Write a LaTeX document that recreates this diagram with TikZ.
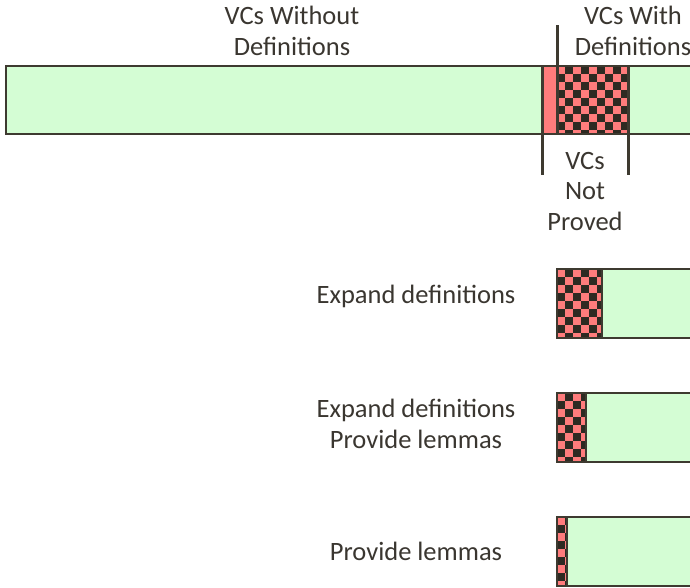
\documentclass[tikz,border=0pt]{standalone}
\usepackage{fontspec}
\setmainfont{Carlito}
\definecolor{barfill}{HTML}{D4FDD4}
\definecolor{redfill}{HTML}{FF7C7C}
\definecolor{darkcell}{HTML}{2E2A22}
\definecolor{edge}{HTML}{3E3A30}
\definecolor{ink}{HTML}{3A3630}

% checkerboard of 8-unit cells filling the box (#1,#2)--(#3,#4)
\newcommand\checkerbox[4]{%
  \begin{scope}
    \fill[redfill] (#1,#2) rectangle (#3,#4);
    \clip (#1,#2) rectangle (#3,#4);
    \foreach \i in {0,2,...,10}{
      \foreach \j in {0,2,...,10}{
        \fill[darkcell] ({#1+\i*8+8},{#2+\j*8}) rectangle +(8,8);
        \fill[darkcell] ({#1+\i*8},{#2+\j*8+8}) rectangle +(8,8);
      }
    }
  \end{scope}}

\begin{document}
\begin{tikzpicture}[x=1pt,y=-1pt,
  bar/.style={draw=edge, line width=2pt, fill=barfill},
  frame/.style={draw=edge, line width=2pt},
  marker/.style={draw=edge, line width=3pt},
  lbl/.style={text=ink, font=\fontsize{26.5}{30.5}\selectfont, align=center, inner sep=0pt}]
\useasboundingbox (0,0) rectangle (690,587);
\clip (0,0) rectangle (690,587);

% ---- top bar: all verification conditions ----
\fill[barfill] (6,66) rectangle (720,134);
\fill[redfill] (542,66) rectangle (557,134);
\checkerbox{557}{66}{628}{134}
\draw[frame] (6,66) rectangle (720,134);

\coordinate (splitTop) at (557,25);
\coordinate (splitBar) at (557,134);
\coordinate (npLeftTop) at (542,66);
\coordinate (npLeftBot) at (542,175);
\coordinate (npRightTop) at (628,66);
\coordinate (npRightBot) at (628,175);
\draw[marker] (splitTop) -- (splitBar);
\draw[marker] (npLeftTop) -- (npLeftBot);
\draw[marker] (npRightTop) -- (npRightBot);

\node[lbl] (without) at (292,31) {VCs Without\\Definitions};
\node[lbl] (with) at (633,31) {VCs With\\Definitions};
\node[lbl] (notproved) at (585,191) {VCs\\Not\\Proved};

% ---- remaining unproved VCs per strategy ----
\fill[barfill] (557,269) rectangle (720,338);
\checkerbox{557}{269}{602}{338}
\draw[frame] (557,269) rectangle (720,338);
\draw[frame] (602,269) -- (602,338);

\fill[barfill] (557,393) rectangle (720,462);
\checkerbox{557}{393}{586}{462}
\draw[frame] (557,393) rectangle (720,462);
\draw[frame] (586,393) -- (586,462);

\fill[barfill] (557,517) rectangle (720,586);
\checkerbox{557}{517}{567}{586}
\draw[frame] (557,517) rectangle (720,586);
\draw[frame] (567,517) -- (567,586);

\node[lbl] (s1) at (416,296) {Expand definitions};
\node[lbl] (s2) at (416,424) {Expand definitions\\Provide lemmas};
\node[lbl] (s3) at (416,551) {Provide lemmas};
\end{tikzpicture}
\end{document}
